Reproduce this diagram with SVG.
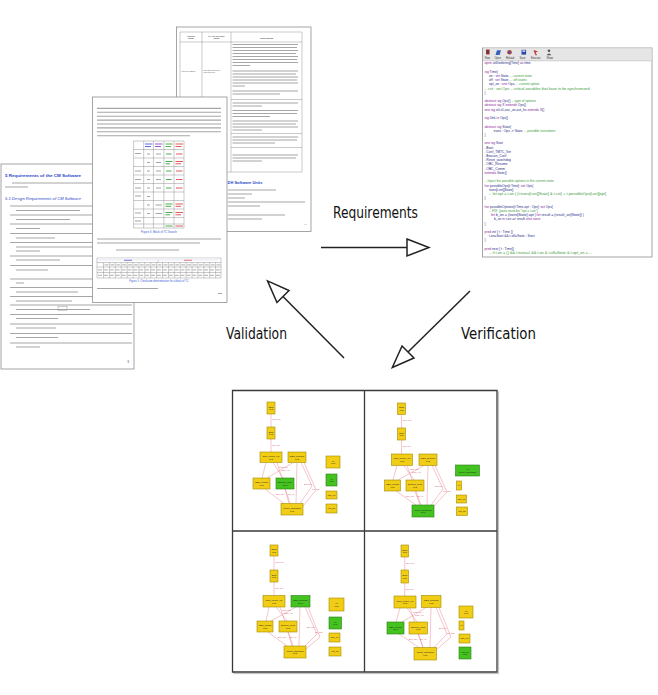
<svg xmlns="http://www.w3.org/2000/svg" width="658" height="695" viewBox="0 0 658 695">
<defs>
<style>
.page{fill:#fff;stroke:#8f8f8f;stroke-width:0.8}
.tl{fill:none;stroke:#a6a6a6;stroke-width:1.1}
.grid{fill:none;stroke:#7a7a7a;stroke-width:0.4}
.h1{font-family:"Liberation Sans",Arial,sans-serif;font-weight:bold;fill:#2945c8}
.h2{font-family:"Liberation Sans",Arial,sans-serif;font-style:italic;fill:#2945c8}
.sm{font-family:"Liberation Serif","Times New Roman",serif;fill:#444}
.cap{font-family:"Liberation Sans",Arial,sans-serif;fill:#3a5ad8;text-anchor:middle}
.cd{font-family:"Liberation Sans",Arial,sans-serif;font-size:3.3px;fill:#1f2a86}
.kw{fill:#8a1c9a}
.cm{fill:#3a9a3a}
.tb{font-family:"Liberation Sans",Arial,sans-serif;font-size:2.6px;fill:#333}
.big{font-family:"DejaVu Sans","Liberation Sans",sans-serif;font-size:15px;fill:#111}
.arr{fill:none;stroke:#222;stroke-width:1.5}
.frame{fill:none;stroke:#3a3a3a;stroke-width:1.3}
.ny{fill:#f1cd15;stroke:#a38a00;stroke-width:0.6}
.ng{fill:#44c21f;stroke:#2c7e14;stroke-width:0.6}
.nt{font-family:"Liberation Sans",Arial,sans-serif;font-size:2.3px;fill:#222;text-anchor:middle}
.e{fill:none;stroke:#ea8a98;stroke-width:0.5}
.el{font-family:"Liberation Sans",Arial,sans-serif;font-size:2.1px;fill:#d9506a}
.cg{fill:none;stroke:#4ab04a;stroke-width:1}
.cr{fill:none;stroke:#e05a5a;stroke-width:1}
.cb{fill:none;stroke:#5a6ae0;stroke-width:1}
</style>
<marker id="oa" markerUnits="userSpaceOnUse" markerWidth="26" markerHeight="22" viewBox="-2 -2 26 22" refX="0" refY="8.5" orient="auto">
<path d="M0,0 L22,8.5 L0,17 Z" fill="#fff" stroke="#222" stroke-width="1.5"/>
</marker>
</defs>
<rect width="658" height="695" fill="#fff"/>

<!-- Page 3 (back, table) -->
<g id="doc-table-page">
<rect class="page" x="176.5" y="27" width="134.5" height="204.5"/>
<path class="grid" d="M180,32 H302 V172 H180 Z M202,32 V172 M231,32 V172 M180,42 H302 M231,99.5 H302 M231,133.5 H302 M231,147.5 H302"/>
<text class="sm" font-size="2.4" font-weight="bold" text-anchor="middle" x="191" y="36.5">Satellite<tspan x="191" dy="2.8">Mode</tspan></text>
<text class="sm" font-size="2.4" font-weight="bold" text-anchor="middle" x="216.5" y="36.5">of CM Software<tspan x="216.5" dy="2.8">Mode</tspan></text>
<text class="sm" font-size="2.6" font-weight="bold" text-anchor="middle" x="266.5" y="38.5">Description</text>
<text class="sm" font-size="2.4" x="181.5" y="72">Survival mode</text>
<text class="sm" font-size="2.4" x="203" y="70.5">CM initialization<tspan x="203" dy="2.8">CM survival</tspan></text>
<path class="tl" d="M232.5,44.5 H298 M232.5,47.5 H297 M232.5,50.5 H298 M232.5,53.5 H296 M232.5,56.5 H298 M232.5,59.5 H297 M232.5,62.5 H298 M232.5,65.5 H250
M232.5,71 H298 M232.5,74 H296 M232.5,77 H298 M232.5,80 H297 M232.5,83 H298 M232.5,86 H245
M232.5,91 H298 M232.5,94 H280
M232.5,103 H298 M232.5,106 H262
M232.5,110.5 H298 M232.5,113.5 H297 M232.5,116.5 H270
M232.5,121 H298 M232.5,124 H296 M232.5,127 H298 M232.5,130 H262
M232.5,137 H298 M232.5,140 H297 M232.5,143 H275
M232.5,155 H298 M232.5,158 H296 M232.5,161 H262"/>
<text class="h1" font-size="4" font-weight="normal" x="227.5" y="183.5">DH Software Units</text>
<path class="tl" d="M228,190 H276 M228,194 H252 M228,198 H245 M228,202 H305 M228,206 H260 M228,215 H285 M228,219 H262"/>
<text class="sm" font-size="2.8" x="304" y="225">13</text>
</g>

<!-- Page 1 (left, requirements) -->
<g id="doc-requirements-page">
<rect class="page" x="1" y="164" width="133" height="205"/>
<text class="h1" font-size="4.2" x="5" y="177" textLength="76" lengthAdjust="spacingAndGlyphs">5   Requirements of the CM Software</text>
<path class="tl" d="M12,183 H130 M5,187 H28"/>
<text class="h2" font-size="3.8" x="5" y="199.5" textLength="76" lengthAdjust="spacingAndGlyphs">5.1  Design Requirements of CM Software</text>
<path class="tl" d="M10,206 H132 M16,210.5 H80
M10,215 H132 M16,219.5 H70
M10,224 H132 M16,228.5 H40
M10,233.5 H132 M16,238 H55
M10,242.5 H132 M16,247 H132 M16,251 H40
M10,256 H132 M16,260 H60
M10,265.5 H132 M16,270 H48
M10,279 H132 M16,283 H24
M10,287.5 H132 M16,292 H78
M10,296.5 H132 M16,301 H72
M10,305 H132 M16,309.5 H90
M10,314.5 H132 M16,318.5 H58
M10,324 H132 M16,328 H56
M10,333.5 H132 M16,337.5 H58
M10,343 H132 M16,347 H40"/>
<rect x="58" y="306.5" width="9" height="4" fill="none" stroke="#888" stroke-width="0.4"/>
<text class="sm" font-size="3" x="127.5" y="362.5">8</text>
</g>

<!-- Page 2 (middle, TC blocks) -->
<g id="doc-tc-page">
<rect class="page" x="92.5" y="97" width="134.5" height="205.5"/>
<path class="tl" d="M97,108.4 H221 M97,112.3 H221 M97,116.2 H221 M97,120.1 H221 M97,124 H221 M97,127.9 H221 M97,131.8 H221 M97,135.7 H190"/>
<path class="grid" d="M133.6,141 H184 V228 H133.6 Z M143.7,141 V228 M153.4,141 V228 M163.9,141 V228 M174,141 V228
M133.6,149.5 H184 M133.6,158 H184 M133.6,166.5 H184 M133.6,175 H184 M133.6,183.5 H184 M133.6,192 H184 M133.6,200.5 H184 M133.6,209 H184 M133.6,217.5 H184 M133.6,224 H184"/>
<path class="cb" d="M145,144 H152.5 M145,146.5 H151"/>
<path d="M155,144 H162.5 M155,146.5 H161" fill="none" stroke="#9a5ad0" stroke-width="1"/>
<path class="cg" d="M165.5,144 H172.5 M165.5,146.5 H171 M166,154 H171.5 M165.5,161.5 H172.5 M165.5,163.8 H170 M166,171 H171.5 M166,179.5 H171.5 M166,188 H171.5 M165.5,204 H172.5 M165.5,206.3 H171 M165.5,212.5 H172.5 M165.5,214.8 H170 M165.5,226 H172.5"/>
<path class="cr" d="M175.5,144 H183 M175.5,146.5 H181.5 M176,154 H182.5 M175.5,161.5 H183 M175.5,163.8 H181 M176,171 H182.5 M176,179.5 H182.5 M176,188 H182.5 M175.5,204 H183 M175.5,206.3 H181 M175.5,212.5 H183 M175.5,214.8 H181 M175.5,226 H183"/>
<path class="tl" d="M135,153.5 H141 M135,171 H141 M135,179.5 H141 M135,188 H141 M135,196 H141 M135,213 H141 M135,221 H141 M147,154 H150 M147,162.5 H150 M147,171 H150 M147,179.5 H150 M147,188 H150 M147,196.5 H150 M147,205 H150 M147,213.5 H150 M156,154 H161 M156,162.5 H161 M156,171 H161 M156,179.5 H161 M156,188 H161 M155.5,205 H162 M155.5,213.5 H162"/>
<text class="cap" font-size="2.8" x="159" y="233">Figure 4: Block of TC Search</text>
<path class="tl" d="M97,239 H221 M97,243 H200 M116,250 H179"/>
<path class="grid" d="M97,258 H221 V278 H97 Z M97,262.5 H221 M97,267 H221 M97,272.5 H221 M158,258 V262.5
M103.5,262.5 V278 M109.4,262.5 V278 M115.3,262.5 V278 M121.2,262.5 V278 M127.1,262.5 V278 M133,262.5 V278 M138.9,262.5 V278 M144.8,262.5 V278 M150.7,262.5 V278 M156.6,262.5 V278 M162.5,262.5 V278 M168.4,262.5 V278 M174.3,262.5 V278 M180.2,262.5 V278 M186.1,262.5 V278 M192,262.5 V278 M197.9,262.5 V278 M203.8,262.5 V278 M209.7,262.5 V278 M215.6,262.5 V278"/>
<path d="M98,259.2 H218" fill="none" stroke="#eef0f5" stroke-width="2.5"/>
<path d="M124,260.3 H132" fill="none" stroke="#6a6ad0" stroke-width="0.9"/>
<path d="M184,260.3 H192" fill="none" stroke="#e06a7a" stroke-width="0.9"/>
<path d="M104.5,264.8 H220.5 M98,269.8 H220.5 M98,275.3 H220.5" fill="none" stroke="#bdbdbd" stroke-width="1.2" stroke-dasharray="3.9 2"/>
<text class="cap" font-size="2.6" x="159" y="282">Figure 5: Checksum determination for a block of TC</text>
<path class="tl" d="M97,288.5 H158 M218,293.5 H222"/>
</g>

<!-- Code editor screenshot -->
<g id="code-editor">
<rect class="page" x="482.5" y="48" width="169.5" height="209"/>
<rect x="483" y="48.4" width="168.6" height="12.4" fill="#e6e6e6"/>
<path d="M483,60.8 H651.6" stroke="#b0b0b0" stroke-width="0.5"/>
<rect x="486" y="49.5" width="3.6" height="5" fill="#c03030"/><rect x="486.6" y="50.2" width="2.2" height="3.4" fill="#444"/>
<path d="M495.5,55 L497,50.2 L501,50.2 L499.6,55 Z" fill="#3a60c0"/>
<circle cx="509.5" cy="52.3" r="2.3" fill="#b03a3a"/><circle cx="509.5" cy="52.3" r="1.1" fill="#4060c0"/>
<rect x="521.5" y="49.8" width="4.6" height="4.8" fill="#2a4aa8"/><rect x="522.4" y="50.3" width="2.8" height="1.6" fill="#cfd8f0"/>
<path d="M533.5,50 L538,51.5 L535.5,52.5 L537,55 L535.8,55.4 L534.5,53 Z" fill="#c03030"/>
<circle cx="549" cy="50.8" r="1.3" fill="#555"/><path d="M546.6,55.3 Q549,51.5 551.4,55.3 Z" fill="#555"/>
<text class="tb" x="484.8" y="59">New</text>
<text class="tb" x="494.5" y="59">Open</text>
<text class="tb" x="506" y="59">Reload</text>
<text class="tb" x="519.5" y="59">Save</text>
<text class="tb" x="531" y="59">Execute</text>
<text class="tb" x="546.5" y="59">Show</text>
<text class="cd" x="484.5" y="64.2"><tspan class="kw">open</tspan> util/ordering[Time] <tspan class="kw">as</tspan> time</text>
<text class="cd" x="484.5" y="72.64"><tspan class="kw">sig</tspan> Time{</text>
<text class="cd" x="489" y="76.86">on : <tspan class="kw">set</tspan> State, <tspan class="cm">-- current state</tspan></text>
<text class="cd" x="489" y="81.08">off : <tspan class="kw">set</tspan> State, <tspan class="cm">-- off states</tspan></text>
<text class="cd" x="489" y="85.3">opt_on : <tspan class="kw">one</tspan> Ops, <tspan class="cm">-- current option</tspan></text>
<text class="cd" x="484.5" y="89.52" textLength="105" lengthAdjust="spacingAndGlyphs"><tspan class="cm">-- crit : set Ops -- critical variables that have to be synchronized</tspan></text>
<text class="cd" x="484.5" y="93.74">}</text>
<text class="cd" x="484.5" y="102.18"><tspan class="kw">abstract sig</tspan> Ops{} <tspan class="cm">-- type of options</tspan></text>
<text class="cd" x="484.5" y="106.4"><tspan class="kw">abstract sig</tspan> X <tspan class="kw">extends</tspan> Ops{}</text>
<text class="cd" x="484.5" y="110.62"><tspan class="kw">one sig</tspan> x0,x1,anc_on,out_hs <tspan class="kw">extends</tspan> X{}</text>
<text class="cd" x="484.5" y="119.06"><tspan class="kw">sig</tspan> Unk <tspan class="kw">in</tspan> Ops{}</text>
<text class="cd" x="484.5" y="127.5"><tspan class="kw">abstract sig</tspan> State{</text>
<text class="cd" x="493.7" y="131.72">trans : Ops -&gt; State, <tspan class="cm">-- possible transitions</tspan></text>
<text class="cd" x="484.5" y="135.94">}</text>
<text class="cd" x="484.5" y="144.38"><tspan class="kw">one sig</tspan> Start</text>
<text class="cd" x="484.5" y="148.6">, Boot</text>
<text class="cd" x="484.5" y="152.82">, Conf_TMTC_Ver</text>
<text class="cd" x="484.5" y="157.04">, Beacon_Conf</text>
<text class="cd" x="484.5" y="161.26">, Reset_watchdog</text>
<text class="cd" x="484.5" y="165.48">, OBC_Resume</text>
<text class="cd" x="484.5" y="169.7">, OBC_Comm</text>
<text class="cd" x="484.5" y="173.92"><tspan class="kw">extends</tspan> State{}</text>
<text class="cd" x="484.5" y="182.36"><tspan class="cm">-- Inject the possible options in the current state</tspan></text>
<text class="cd" x="484.5" y="186.58"><tspan class="kw">fun</tspan> possibleOps[t:Time]: <tspan class="kw">set</tspan> Ops{</text>
<text class="cd" x="489" y="190.8">trans[t.on][State]</text>
<text class="cd" x="489" y="195.02" textLength="117" lengthAdjust="spacingAndGlyphs"><tspan class="cm">-- let opt = t.on | (t.trans[t.on][State] &amp; t.crit) + t.possibleOps[t.on][opt]</tspan></text>
<text class="cd" x="484.5" y="199.24">}</text>
<text class="cd" x="484.5" y="207.68"><tspan class="kw">fun</tspan> possibleOptions[t:Time,opt : Ops]: <tspan class="kw">set</tspan> Ops{</text>
<text class="cd" x="489" y="211.9"><tspan class="cm">-- FIX: {pass must be "opt = t.on"}</tspan></text>
<text class="cd" x="491" y="216.12" textLength="93" lengthAdjust="spacingAndGlyphs"><tspan class="kw">let</tspan> b_on = (trans[State].opt | <tspan class="kw">let</tspan> result = (result_on[State]) |</text>
<text class="cd" x="494" y="220.34">b_on <tspan class="kw">in</tspan> t.on =&gt; result <tspan class="kw">else none</tspan></text>
<text class="cd" x="484.5" y="224.56">}</text>
<text class="cd" x="484.5" y="233"><tspan class="kw">pred</tspan> init [ t : Time ]{</text>
<text class="cd" x="489" y="237.22">t.on=Start &amp;&amp; t.off=State - Start</text>
<text class="cd" x="484.5" y="241.44">}</text>
<text class="cd" x="484.5" y="249.88"><tspan class="kw">pred</tspan> next [ t : Time]{</text>
<text class="cd" x="489" y="254.1" textLength="103" lengthAdjust="spacingAndGlyphs"><tspan class="cm">-- if t.on = {} &amp;&amp; t.trans=/ &amp;&amp; t.on &amp; t.off=State &amp; t.opt_on = ...</tspan></text>
</g>

<!-- Cycle connectors -->
<g id="connectors">
<path class="arr" d="M321,247.5 H407" marker-end="url(#oa)"/>
<path class="arr" d="M470,291 L408,352" marker-end="url(#oa)"/>
<path class="arr" d="M344,358 L283,296.5" marker-end="url(#oa)"/>
<text class="big" x="333" y="217.5" textLength="85" lengthAdjust="spacingAndGlyphs">Requirements</text>
<text class="big" x="461" y="338.5" textLength="75" lengthAdjust="spacingAndGlyphs">Verification</text>
<text class="big" x="226" y="338.5" textLength="61" lengthAdjust="spacingAndGlyphs">Validation</text>
</g>

<!-- Graph panel -->
<g id="graph-panel">
<rect x="234" y="392" width="264.5" height="281.5" fill="none" stroke="#c4c4c4" stroke-width="1.2"/>
<rect x="232.5" y="390.5" width="264.5" height="281.5" fill="#fff"/>
<path class="frame" d="M232.5,390.5 H497 V672 H232.5 Z M364.5,390.5 V672 M232.5,531 H497"/>

<g id="graph-edges">
<path class="e" d="M271,414 V427 M271,439 V452 M266,462.5 L262,478 M273,462.5 L283,478 M277,462.5 L290,503.5 M293,462.5 L267,478 M297,462.5 L296,503.5 M301,462.5 L312,486 L300,503.5 M304,462.5 L316,490 L303,506 M265,489 L284,503.5 M285,489 L289,503.5"/>
<path class="e" d="M401.5,414.5 V428 M401.5,440 V454 M397,465.5 L393,480 M404,465.5 L414,480 M407,465.5 L421,505 M424,465.5 L398,480 M428,465.5 L427,505 M432,465.5 L443,489 L431,505 M435,465.5 L447,492 L433,507 M396,491 L416,505 M415,491 L420,505"/>
<path class="e" d="M274,556 V570 M274,582 V595.5 M269,607 L266,621 M276,607 L287,621 M280,607 L293,646 M296,607 L271,621 M300,607 L299,646 M305,607 L317,634 L305,646 M308,607 L320,637 L306,649 M268,632 L287,646 M288,632 L292,646"/>
<path class="e" d="M404.75,557 V570 M404.75,583 V596 M400,608 L396,622 M407,608 L417,622 M410,608 L423,647.5 M426,607.5 L402,622 M431,607.5 L430,647.5 M436,607.5 L447,634 L434,647.5 M439,607.5 L451,637 L436,650 M399,634 L419,647.5 M418,634 L423,647.5"/>
<text class="el" x="272.5" y="420">Next (LT)</text>
<text class="el" x="272.5" y="445.5">Exe (LT)</text>
<text class="el" x="279" y="467.5">Conf (LT)</text>
<text class="el" x="281" y="470.5">Tmtc_Ver</text>
<text class="el" x="304" y="484.5">Bcn (LT)</text>
<text class="el" x="312" y="489.5">Ins_Unk</text>
<text class="el" x="276" y="495">Bcn_Cnf</text>
<text class="el" x="288" y="495">Rst_x1</text>
<text class="el" x="403" y="421">Next (LT)</text>
<text class="el" x="403" y="447">Exe (LT)</text>
<text class="el" x="410" y="470">Conf (LT)</text>
<text class="el" x="412" y="473">Tmtc_Ver</text>
<text class="el" x="435" y="487">Bcn (LT)</text>
<text class="el" x="443" y="492">Ins_Unk</text>
<text class="el" x="406" y="497">Bcn_Cnf</text>
<text class="el" x="417" y="497">Rst_x1</text>
<text class="el" x="275.5" y="563">Next (LT)</text>
<text class="el" x="275.5" y="588.5">Exe (LT)</text>
<text class="el" x="282" y="611">Conf (LT)</text>
<text class="el" x="284" y="614">Tmtc_Ver</text>
<text class="el" x="307" y="628">Bcn (LT)</text>
<text class="el" x="315" y="633">Ins_Unk</text>
<text class="el" x="278" y="638">Bcn_Cnf</text>
<text class="el" x="290" y="638">Rst_x1</text>
<text class="el" x="406" y="564">Next (LT)</text>
<text class="el" x="406" y="590">Exe (LT)</text>
<text class="el" x="413" y="613">Conf (LT)</text>
<text class="el" x="415" y="616">Tmtc_Ver</text>
<text class="el" x="439" y="629">Bcn (LT)</text>
<text class="el" x="447" y="634">Ins_Unk</text>
<text class="el" x="409" y="640">Bcn_Cnf</text>
<text class="el" x="420" y="640">Rst_x1</text>
</g>

<!-- Quadrant 1 nodes -->
<g id="q1-start"><rect class="ny" x="267" y="402" width="8" height="12"/><text class="nt" x="271" y="407.6">Start<tspan x="271" dy="2.6">Left</tspan></text></g>
<g id="q1-boot"><rect class="ny" x="267" y="427" width="8" height="12"/><text class="nt" x="271" y="432.6">Boot<tspan x="271" dy="2.6">Left</tspan></text></g>
<g id="q1-conf"><rect class="ny" x="260" y="452" width="22" height="10.5"/><text class="nt" x="271" y="456.9">Conf_TMTC_Ver<tspan x="271" dy="2.6">Left</tspan></text></g>
<g id="q1-resume"><rect class="ny" x="288" y="452" width="18" height="10.5"/><text class="nt" x="297" y="456.9">OBC_Resume<tspan x="297" dy="2.6">Left</tspan></text></g>
<g id="q1-comm"><rect class="ny" x="253" y="478" width="17" height="11"/><text class="nt" x="261.5" y="483.1">OBC_Comm<tspan x="261.5" dy="2.6">Left</tspan></text></g>
<g id="q1-beacon"><rect class="ng" x="276" y="478" width="18" height="11"/><text class="nt" x="285" y="483.1">Beacon_Conf<tspan x="285" dy="2.6">Next</tspan></text></g>
<g id="q1-reset"><rect class="ny" x="281" y="503.5" width="22" height="11.5"/><text class="nt" x="292" y="508.9">Reset_watchdog<tspan x="292" dy="2.6">Left</tspan></text></g>
<g id="q1-x1"><rect class="ny" x="326" y="456" width="14" height="12"/><text class="nt" x="333" y="461.6">x1<tspan x="333" dy="2.6">Left</tspan></text></g>
<g id="q1-x0"><rect class="ng" x="326" y="474" width="11" height="12"/><text class="nt" x="331.5" y="479.6">x0<tspan x="331.5" dy="2.6">Left</tspan></text></g>
<g id="q1-anc"><rect class="ny" x="326" y="491" width="11" height="8"/><text class="nt" x="331.5" y="495.8">anc_on</text></g>
<g id="q1-out"><rect class="ny" x="326" y="504" width="11" height="9"/><text class="nt" x="331.5" y="509.3">out_hs</text></g>

<!-- Quadrant 2 nodes -->
<g id="q2-start"><rect class="ny" x="397.5" y="403" width="8" height="11.5"/><text class="nt" x="401.5" y="408.4">Start<tspan x="401.5" dy="2.6">Left</tspan></text></g>
<g id="q2-boot"><rect class="ny" x="397.5" y="428" width="8" height="12"/><text class="nt" x="401.5" y="433.6">Boot<tspan x="401.5" dy="2.6">Left</tspan></text></g>
<g id="q2-conf"><rect class="ny" x="391.5" y="454" width="21" height="11.5"/><text class="nt" x="402" y="459.4">Conf_TMTC_Ver<tspan x="402" dy="2.6">Left</tspan></text></g>
<g id="q2-resume"><rect class="ny" x="419" y="454" width="18" height="11.5"/><text class="nt" x="428" y="459.4">OBC_Resume<tspan x="428" dy="2.6">Left</tspan></text></g>
<g id="q2-comm"><rect class="ny" x="384.5" y="480" width="16" height="11"/><text class="nt" x="392.5" y="485.1">OBC_Comm<tspan x="392.5" dy="2.6">Left</tspan></text></g>
<g id="q2-beacon"><rect class="ny" x="406" y="480" width="18" height="11"/><text class="nt" x="415" y="485.1">Beacon_Conf<tspan x="415" dy="2.6">Left</tspan></text></g>
<g id="q2-reset"><rect class="ng" x="412" y="505" width="22" height="12"/><text class="nt" x="423" y="510.6">Reset_watchdog<tspan x="423" dy="2.6">Next</tspan></text></g>
<g id="q2-x1"><rect class="ng" x="455.5" y="465" width="24" height="11"/><text class="nt" x="467.5" y="470.1">x1<tspan x="467.5" dy="2.6">Reset_watchdog</tspan></text></g>
<g id="q2-x0"><rect class="ny" x="456.5" y="481" width="5" height="9"/><text class="nt" x="459" y="486.3">x0</text></g>
<g id="q2-anc"><rect class="ny" x="456.5" y="495" width="10" height="8"/><text class="nt" x="461.5" y="499.8">anc_on</text></g>
<g id="q2-out"><rect class="ny" x="456.5" y="507" width="11" height="8.5"/><text class="nt" x="462" y="512">out_hs</text></g>

<!-- Quadrant 3 nodes -->
<g id="q3-start"><rect class="ny" x="270" y="545" width="8" height="11"/><text class="nt" x="274" y="550.1">Start<tspan x="274" dy="2.6">Left</tspan></text></g>
<g id="q3-boot"><rect class="ny" x="270" y="570" width="8" height="12"/><text class="nt" x="274" y="575.6">Boot<tspan x="274" dy="2.6">Left</tspan></text></g>
<g id="q3-conf"><rect class="ny" x="263" y="595.5" width="22" height="11.5"/><text class="nt" x="274" y="600.9">Conf_TMTC_Ver<tspan x="274" dy="2.6">Left</tspan></text></g>
<g id="q3-resume"><rect class="ng" x="291" y="595.5" width="19" height="11.5"/><text class="nt" x="300.5" y="600.9">OBC_Resume<tspan x="300.5" dy="2.6">Next</tspan></text></g>
<g id="q3-comm"><rect class="ny" x="257" y="621" width="16" height="11"/><text class="nt" x="265" y="626.1">OBC_Comm<tspan x="265" dy="2.6">Left</tspan></text></g>
<g id="q3-beacon"><rect class="ny" x="279" y="621" width="18" height="11"/><text class="nt" x="288" y="626.1">Beacon_Conf<tspan x="288" dy="2.6">Left</tspan></text></g>
<g id="q3-reset"><rect class="ny" x="284" y="646" width="22" height="12"/><text class="nt" x="295" y="651.6">Reset_watchdog<tspan x="295" dy="2.6">Left</tspan></text></g>
<g id="q3-x1"><rect class="ny" x="329" y="598" width="15" height="13"/><text class="nt" x="336.5" y="604.1">x1<tspan x="336.5" dy="2.6">Left</tspan></text></g>
<g id="q3-x0"><rect class="ng" x="329" y="617" width="12.5" height="12"/><text class="nt" x="335.25" y="622.6">x0<tspan x="335.25" dy="2.6">Left</tspan></text></g>
<g id="q3-anc"><rect class="ny" x="329" y="633" width="11" height="9"/><text class="nt" x="334.5" y="638.3">anc_on</text></g>
<g id="q3-out"><rect class="ny" x="329" y="647" width="12" height="9"/><text class="nt" x="335" y="652.3">out_hs</text></g>

<!-- Quadrant 4 nodes -->
<g id="q4-start"><rect class="ny" x="401" y="545" width="7.5" height="12"/><text class="nt" x="404.75" y="550.6">Start<tspan x="404.75" dy="2.6">Left</tspan></text></g>
<g id="q4-boot"><rect class="ny" x="401" y="570" width="7.5" height="13"/><text class="nt" x="404.75" y="576.1">Boot<tspan x="404.75" dy="2.6">Left</tspan></text></g>
<g id="q4-conf"><rect class="ny" x="394" y="596" width="22" height="12"/><text class="nt" x="405" y="601.6">Conf_TMTC_Ver<tspan x="405" dy="2.6">Left</tspan></text></g>
<g id="q4-resume"><rect class="ny" x="421.5" y="595.5" width="19.5" height="12"/><text class="nt" x="431.25" y="601.1">OBC_Resume<tspan x="431.25" dy="2.6">Left</tspan></text></g>
<g id="q4-comm"><rect class="ng" x="387" y="622" width="17" height="12"/><text class="nt" x="395.5" y="627.6">OBC_Comm<tspan x="395.5" dy="2.6">Next</tspan></text></g>
<g id="q4-beacon"><rect class="ny" x="409" y="622" width="18.5" height="12"/><text class="nt" x="418.25" y="627.6">Beacon_Conf<tspan x="418.25" dy="2.6">Left</tspan></text></g>
<g id="q4-reset"><rect class="ny" x="414" y="647.5" width="22.5" height="12.5"/><text class="nt" x="425.25" y="653.4">Reset_watchdog<tspan x="425.25" dy="2.6">Left</tspan></text></g>
<g id="q4-x1"><rect class="ny" x="459" y="606" width="14" height="12"/><text class="nt" x="466" y="611.6">x1<tspan x="466" dy="2.6">Left</tspan></text></g>
<g id="q4-x0"><rect class="ny" x="459" y="621" width="5" height="9"/><text class="nt" x="461.5" y="626.3">x0</text></g>
<g id="q4-anc"><rect class="ny" x="459" y="634" width="11" height="9"/><text class="nt" x="464.5" y="639.3">anc_on</text></g>
<g id="q4-out"><rect class="ng" x="459" y="647" width="12" height="12"/><text class="nt" x="465" y="652.6">out_hs<tspan x="465" dy="2.6">Left</tspan></text></g>
</g>
</svg>
